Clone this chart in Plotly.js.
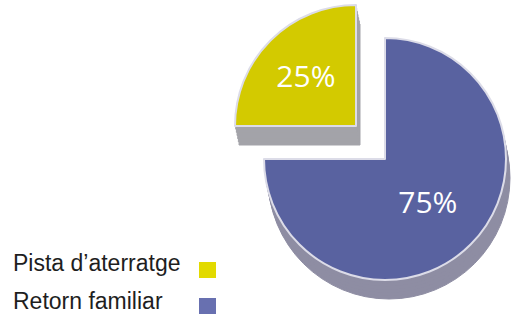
<!DOCTYPE html>
<html>
<head>
<meta charset="utf-8">
<script src="https://cdn.plot.ly/plotly-3.0.1.min.js"></script>
<style>html,body{margin:0;padding:0;background:#fff;}#chart{width:518px;height:314px;}</style>
</head>
<body>
<div id="chart"></div>
<script>
// ---- data ----
const categories = ['Pista d\u2019aterratge', 'Retorn familiar'];
const values = [25, 75];
const faceColors = ['#d3ca00', '#5962a0'];
const sideColors = ['#a3a3a9', '#8e8da3'];
const legendColors = ['#e2da00', '#6870b0'];

// ---- layout geometry (pixels) ----
const W = 518, H = 314;
const R = 121;
const centers = [[356, 126], [385, 159]]; // face centres for each slice (exploded slice shifted)
const depth = [4, 19];
const layers = 6;

const total = values.reduce((a, b) => a + b, 0);
const pctText = values.map(v => Math.round(v / total * 100) + '%');

function pieTrace(sliceIdx, dx, dy, face) {
  const cx = centers[sliceIdx][0] + dx, cy = centers[sliceIdx][1] + dy;
  const colors = values.map((_, i) => i === sliceIdx ? (face ? faceColors[i] : sideColors[i]) : 'rgba(0,0,0,0)');
  const lineColors = values.map((_, i) => i === sliceIdx ? (face ? '#dcdce8' : sideColors[i]) : 'rgba(0,0,0,0)');
  return {
    type: 'pie',
    labels: categories,
    values: values,
    sort: false,
    direction: 'clockwise',
    rotation: -90,
    domain: {
      x: [(cx - R) / W, (cx + R) / W],
      y: [1 - (cy + R) / H, 1 - (cy - R) / H]
    },
    marker: { colors: colors, line: { color: lineColors, width: face ? 2 : 1 } },
    text: face ? pctText.map((t, i) => i === sliceIdx ? t : '') : values.map(() => ''),
    textinfo: 'text',
    textposition: 'inside',
    insidetextorientation: 'horizontal',
    insidetextfont: { family: 'Open Sans', size: 30, color: '#ffffff' },
    hoverinfo: 'skip',
    showlegend: false
  };
}

const traces = [];
// blue (slice 1) first, then exploded yellow (slice 0)
[1, 0].forEach(s => {
  for (let k = layers; k >= 1; k--) {
    traces.push(pieTrace(s, depth[0] * k / layers, depth[1] * k / layers, false));
  }
  traces.push(pieTrace(s, 0, 0, true));
});

// legend (text left, square right)
const textRows = [263, 301];
const squareTops = [262, 298];
const annotations = categories.map((c, i) => ({
  text: c, xref: 'paper', yref: 'paper',
  x: 11 / W, y: 1 - textRows[i] / H, xanchor: 'left', yanchor: 'middle',
  showarrow: false, font: { family: 'Liberation Sans, Arial', size: 23, color: '#1e1e1e' }
}));
const shapes = categories.map((c, i) => ({
  type: 'rect', xref: 'paper', yref: 'paper',
  x0: 199 / W, x1: 216 / W,
  y0: 1 - (squareTops[i] + 16) / H, y1: 1 - squareTops[i] / H,
  fillcolor: legendColors[i], line: { width: 0 }
}));

const layout = {
  width: W, height: H,
  margin: { l: 0, r: 0, t: 0, b: 0 },
  paper_bgcolor: '#ffffff',
  showlegend: false,
  annotations: annotations,
  shapes: shapes
};

Plotly.newPlot('chart', traces, layout, { displayModeBar: false, staticPlot: true });
</script>
</body>
</html>
